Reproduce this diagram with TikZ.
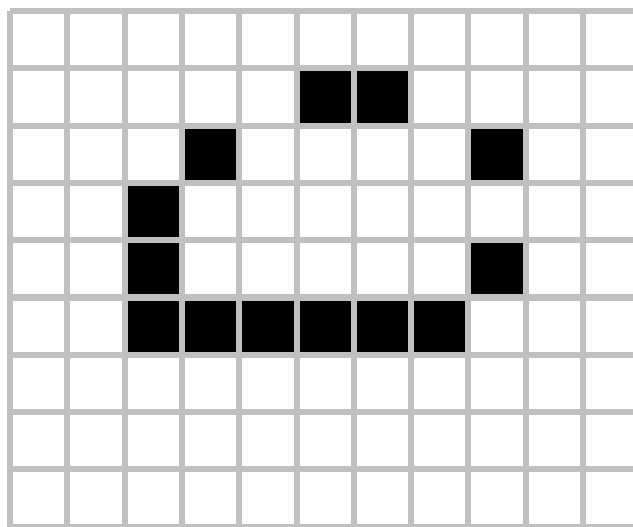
\documentclass[tikz,border=0pt]{standalone}
\definecolor{gridgray}{RGB}{192,192,192}
\begin{document}
\begin{tikzpicture}[
    cell/.style={fill=black},
    gridline/.style={draw=gridgray, line width=3pt}
]

% Frame
\path[use as bounding box, clip] (-0.175,0.192) rectangle (10.872,-9.005);

% Live cells
\foreach \c/\r in {5/1,6/1,3/2,8/2,2/3,2/4,8/4,2/5,3/5,4/5,5/5,6/5,7/5}
    \fill[cell] (\c,-\r) rectangle ++(1,-1);

% Grid
\draw[gridline] (0,-9) grid (11,0);

\end{tikzpicture}
\end{document}
